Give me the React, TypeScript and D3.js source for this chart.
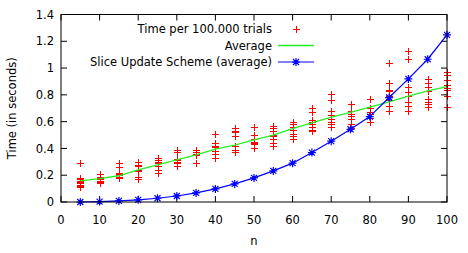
import * as d3 from "d3";

const ns = [5, 10, 15, 20, 25, 30, 35, 40, 45, 50, 55, 60, 65, 70, 75, 80, 85, 90, 95, 100];

// individual trial times per n (seconds per 100.000 trials)
const trials = [
  [0.29, 0.18, 0.17, 0.16, 0.15, 0.14, 0.13, 0.12, 0.11, 0.15],
  [0.21, 0.19, 0.18, 0.17, 0.16, 0.16, 0.15, 0.15, 0.14],
  [0.29, 0.26, 0.22, 0.21, 0.2, 0.19, 0.19, 0.18],
  [0.3, 0.28, 0.28, 0.27, 0.24, 0.23, 0.19, 0.17],
  [0.33, 0.31, 0.3, 0.29, 0.27, 0.24, 0.22],
  [0.39, 0.37, 0.32, 0.31, 0.3, 0.29, 0.27],
  [0.39, 0.37, 0.36, 0.36, 0.35, 0.29],
  [0.51, 0.44, 0.42, 0.41, 0.38, 0.36, 0.33],
  [0.55, 0.53, 0.52, 0.49, 0.42, 0.39, 0.37],
  [0.56, 0.5, 0.47, 0.45, 0.44, 0.43, 0.43, 0.4],
  [0.57, 0.55, 0.53, 0.5, 0.49, 0.47, 0.44, 0.42],
  [0.6, 0.58, 0.56, 0.54, 0.51, 0.49, 0.47],
  [0.7, 0.67, 0.61, 0.6, 0.58, 0.56, 0.54, 0.53],
  [0.81, 0.76, 0.68, 0.65, 0.62, 0.6, 0.58, 0.56],
  [0.73, 0.68, 0.66, 0.64, 0.62, 0.58, 0.55],
  [0.77, 0.7, 0.67, 0.66, 0.63, 0.6],
  [1.04, 0.89, 0.84, 0.83, 0.79, 0.76, 0.72, 0.68],
  [1.13, 1.07, 0.86, 0.82, 0.79, 0.75, 0.72, 0.68],
  [0.92, 0.89, 0.86, 0.83, 0.77, 0.75, 0.73, 0.71],
  [0.97, 0.95, 0.91, 0.87, 0.85, 0.84, 0.79, 0.71],
];

const average = [0.157, 0.174, 0.196, 0.24, 0.277, 0.314, 0.352, 0.395, 0.424, 0.463, 0.5, 0.548, 0.59, 0.633, 0.67, 0.708, 0.748, 0.79, 0.83, 0.862];
const sliceUpdate = [0.0, 0.003, 0.008, 0.016, 0.028, 0.045, 0.068, 0.098, 0.135, 0.18, 0.232, 0.29, 0.369, 0.454, 0.543, 0.638, 0.78, 0.919, 1.066, 1.248];

const xTicks = [0, 10, 20, 30, 40, 50, 60, 70, 80, 90, 100];
const yTicks = [0, 0.2, 0.4, 0.6, 0.8, 1, 1.2, 1.4];
const legendLabels = ["Time per 100.000 trials", "Average", "Slice Update Scheme (average)"];

const W = 468;
const H = 253;
const m = { left: 61, right: 21, top: 14.5, bottom: 51 };
const font = "'DejaVu Sans', Verdana, sans-serif";
const red = "#ff0000";
const green = "#22ee22";
const blue = "#0000ff";

const Plus = ({ x, y, r, color }) => {
  const cx = Math.round(x) + 0.5, cy = Math.round(y) + 0.5;
  return (
    <path d={`M${cx - r},${cy}H${cx + r}M${cx},${cy - r}V${cy + r}`} stroke={color} strokeWidth={1} fill="none" />
  );
};

const Star = ({ x, y, r, color }) => (
  <path
    d={`M${x - r},${y}H${x + r}M${x},${y - r}V${y + r}M${x - r * 0.75},${y - r * 0.75}L${x + r * 0.75},${y + r * 0.75}M${x - r * 0.75},${y + r * 0.75}L${x + r * 0.75},${y - r * 0.75}`}
    stroke={color}
    strokeWidth={1.2}
    fill="none"
  />
);

export default function App() {
  const x = d3.scaleLinear().domain([0, 100]).range([m.left, W - m.right]);
  const y = d3.scaleLinear().domain([0, 1.4]).range([H - m.bottom, m.top]);
  const line = d3
    .line<number>()
    .x((_, i) => x(ns[i]))
    .y((d) => y(d));

  const x0 = x(0), x1 = x(100), y0 = y(0), y1 = y(1.4);
  const tk = 6;

  // legend layout
  const legTextRight = 272;
  const legSampleL = 278;
  const legSampleR = 314;
  const legRows = [29, 45.5, 62];

  return (
    <svg width={W} height={H} style={{ position: "absolute", left: 0, top: 0, background: "#fff" }} fontFamily={font} fontSize={11.5}>
      {/* ticks (mirrored, inward) */}
      {xTicks.map((t) => (
        <g key={"x" + t}>
          <line x1={x(t)} x2={x(t)} y1={y0} y2={y0 - tk} stroke="#000" />
          <line x1={x(t)} x2={x(t)} y1={y1} y2={y1 + tk} stroke="#000" />
          <text x={x(t)} y={y0 + 22} textAnchor="middle" fill="#000">{t}</text>
        </g>
      ))}
      {yTicks.map((t) => (
        <g key={"y" + t}>
          <line x1={x0} x2={x0 + tk} y1={y(t)} y2={y(t)} stroke="#000" />
          <line x1={x1} x2={x1 - tk} y1={y(t)} y2={y(t)} stroke="#000" />
          <text x={x0 - 7} y={y(t)} dy="0.36em" textAnchor="end" fill="#000">{+t.toFixed(1)}</text>
        </g>
      ))}

      {/* data */}
      {trials.map((vals, i) =>
        vals.map((v, j) => <Plus key={i + "-" + j} x={x(ns[i])} y={y(v)} r={3.5} color={red} />)
      )}
      <path d={line(average) ?? ""} fill="none" stroke={green} strokeWidth={1.3} />
      <path d={line(sliceUpdate) ?? ""} fill="none" stroke={blue} strokeWidth={1.2} />
      {sliceUpdate.map((v, i) => (
        <Star key={"s" + i} x={x(ns[i])} y={y(v)} r={4} color={blue} />
      ))}

      {/* frame */}
      <rect x={x0} y={y1} width={x1 - x0} height={y0 - y1} fill="none" stroke="#000" />

      {/* legend */}
      {legendLabels.map((l, i) => (
        <text key={l} x={legTextRight} y={legRows[i]} dy="0.36em" textAnchor="end" fill="#000">{l}</text>
      ))}
      <Plus x={(legSampleL + legSampleR) / 2} y={legRows[0]} r={3.5} color={red} />
      <line x1={legSampleL} x2={legSampleR} y1={legRows[1]} y2={legRows[1]} stroke={green} strokeWidth={1.3} />
      <line x1={legSampleL} x2={legSampleR} y1={legRows[2]} y2={legRows[2]} stroke={blue} strokeWidth={1.2} />
      <Star x={(legSampleL + legSampleR) / 2} y={legRows[2]} r={4} color={blue} />

      {/* axis titles */}
      <text x={(x0 + x1) / 2} y={245} textAnchor="middle" fill="#000">n</text>
      <text transform={`translate(16,${(y0 + y1) / 2}) rotate(-90)`} textAnchor="middle" fill="#000">Time (in seconds)</text>
    </svg>
  );
}
